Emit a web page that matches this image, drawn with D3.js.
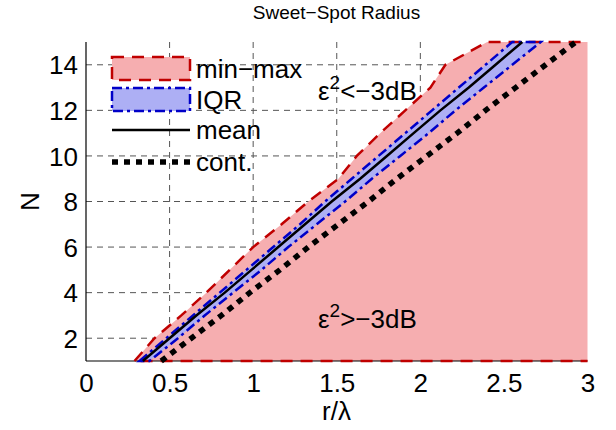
<!DOCTYPE html>
<html>
<head>
<meta charset="utf-8">
<script src="https://cdn.jsdelivr.net/npm/d3@7"></script>
<style>
  html, body { margin: 0; padding: 0; background: #fff; }
  svg { display: block; font-family: "Liberation Sans", Arial, Helvetica, sans-serif; }
</style>
</head>
<body>
<svg id="chart" width="616" height="430"></svg>
<script>
// ---- data ----
const orders   = [1, 2, 3, 4, 5, 6, 7, 8, 9, 10, 11, 12, 13, 14, 15];   // N
const radiusMin  = [0.29, 0.41, 0.57, 0.72, 0.86, 1.00, 1.17, 1.33, 1.51, 1.62, 1.76, 1.91, 2.06, 2.15, 2.40];
const radiusMax  = [3.50, 3.50, 3.50, 3.50, 3.50, 3.50, 3.50, 3.50, 3.50, 3.50, 3.50, 3.50, 3.50, 3.50, 3.50];
const radiusQ1   = [0.32, 0.48, 0.64, 0.80, 0.96, 1.12, 1.28, 1.43, 1.59, 1.75, 1.91, 2.07, 2.23, 2.39, 2.55];
const radiusQ3   = [0.38, 0.55, 0.71, 0.88, 1.05, 1.21, 1.38, 1.55, 1.71, 1.88, 2.05, 2.21, 2.38, 2.55, 2.72];
const radiusMean = [0.34, 0.50, 0.66, 0.83, 0.99, 1.15, 1.31, 1.47, 1.64, 1.80, 1.96, 2.12, 2.29, 2.45, 2.61];
const radiusCont = [0.45, 0.63, 0.81, 0.98, 1.16, 1.33, 1.51, 1.69, 1.86, 2.04, 2.22, 2.39, 2.57, 2.75, 2.93];

const xTickValues = [0, 0.5, 1, 1.5, 2, 2.5, 3];
const xTickLabels = ["0", "0.5", "1", "1.5", "2", "2.5", "3"];
const yTickValues = [2, 4, 6, 8, 10, 12, 14];
const yTickLabels = ["2", "4", "6", "8", "10", "12", "14"];
const legendLabels = ["min\u2212max", "IQR", "mean", "cont."];

// ---- layout ----
const svg = d3.select("#chart");
const x = d3.scaleLinear().domain([0, 3]).range([86, 587.5]);
const y = d3.scaleLinear().domain([1, 15]).range([361, 42]);

const C = {
  pink: "#f6aeb0", red: "#c00000",
  lav: "#adaff4", blue: "#0000c8",
  grid: "#555"
};

const defs = svg.append("defs");
defs.append("clipPath").attr("id", "clipFill").append("rect")
  .attr("x", x(0)).attr("y", y(15)).attr("width", x(3) - x(0)).attr("height", y(1) - y(15));
defs.append("clipPath").attr("id", "clipStroke").append("rect")
  .attr("x", x(0) - 5).attr("y", y(15) - 3).attr("width", x(3) - x(0) + 5).attr("height", y(1) - y(15) + 6);

// grid
const grid = svg.append("g");
grid.selectAll("line.v").data(xTickValues.filter(v => v > 0 && v < 3)).enter().append("line")
  .attr("x1", d => x(d)).attr("x2", d => x(d)).attr("y1", y(15)).attr("y2", y(1))
  .attr("stroke", C.grid).attr("stroke-width", 1).attr("stroke-dasharray", "6,5");
grid.selectAll("line.h").data(yTickValues).enter().append("line")
  .attr("x1", x(0)).attr("x2", x(3)).attr("y1", d => y(d)).attr("y2", d => y(d))
  .attr("stroke", C.grid).attr("stroke-width", 1).attr("stroke-dasharray", "6,5");

// polygons
function band(lo, hi) {
  const pts = orders.map((n, i) => [lo[i], n]);
  for (let i = orders.length - 1; i >= 0; i--) pts.push([hi[i], orders[i]]);
  return d3.line().x(d => x(d[0])).y(d => y(d[1]))(pts) + "Z";
}
const mmPath = band(radiusMin, radiusMax);
const iqrPath = band(radiusQ1, radiusQ3);

svg.append("path").attr("d", mmPath).attr("fill", C.pink).attr("clip-path", "url(#clipFill)");
svg.append("path").attr("d", iqrPath).attr("fill", C.lav);

// axes lines
const xAxis = d3.axisBottom(x).tickValues(xTickValues).tickFormat((d, i) => xTickLabels[i]).tickSize(0).tickPadding(0);
const yAxis = d3.axisLeft(y).tickValues(yTickValues).tickFormat((d, i) => yTickLabels[i]).tickSize(0).tickPadding(0);

const gx = svg.append("g").attr("transform", `translate(0,${y(1)})`).call(xAxis);
gx.select(".domain").attr("stroke", "#000").attr("stroke-width", 1.2).attr("d", `M${x(0)},0H${x(3)}`);
gx.selectAll(".tick text").attr("y", 31).attr("dy", 0).attr("font-size", 26).attr("fill", "#000")
  .attr("font-family", "Liberation Sans, Arial, sans-serif");

const gy = svg.append("g").attr("transform", `translate(${x(0)},0)`).call(yAxis);
gy.select(".domain").attr("stroke", "#000").attr("stroke-width", 1.2).attr("d", `M0,${y(15)}V${y(1)}`);
gy.selectAll(".tick text").attr("x", -8).attr("dy", "0.35em").attr("font-size", 26).attr("fill", "#000")
  .attr("font-family", "Liberation Sans, Arial, sans-serif");

// strokes of the bands
svg.append("path").attr("d", mmPath).attr("fill", "none").attr("stroke", C.red)
  .attr("stroke-width", 2.5).attr("stroke-dasharray", "12,8").attr("clip-path", "url(#clipStroke)");
svg.append("path").attr("d", iqrPath).attr("fill", "none").attr("stroke", C.blue)
  .attr("stroke-width", 2.5).attr("stroke-dasharray", "10,4,3,4");

// mean and cont. lines
const lineGen = d3.line().x(d => x(d[0])).y(d => y(d[1]));
svg.append("path").attr("d", lineGen(orders.map((n, i) => [radiusMean[i], n])))
  .attr("fill", "none").attr("stroke", "#000").attr("stroke-width", 2.5);
svg.append("path").attr("d", lineGen(orders.map((n, i) => [radiusCont[i], n])))
  .attr("fill", "none").attr("stroke", "#000").attr("stroke-width", 5.5).attr("stroke-dasharray", "6,6");

// legend
const lg = svg.append("g");
const lx0 = 112, lx1 = 190;
lg.append("rect").attr("x", lx0).attr("y", 57).attr("width", lx1 - lx0).attr("height", 23)
  .attr("fill", C.pink).attr("stroke", C.red).attr("stroke-width", 2.5).attr("stroke-dasharray", "12,8");
lg.append("rect").attr("x", lx0).attr("y", 88).attr("width", lx1 - lx0).attr("height", 23)
  .attr("fill", C.lav).attr("stroke", C.blue).attr("stroke-width", 2.5).attr("stroke-dasharray", "10,4,3,4");
lg.append("line").attr("x1", lx0).attr("x2", lx1).attr("y1", 130).attr("y2", 130)
  .attr("stroke", "#000").attr("stroke-width", 2.5);
lg.append("line").attr("x1", lx0).attr("x2", lx1).attr("y1", 162).attr("y2", 162)
  .attr("stroke", "#000").attr("stroke-width", 5.5).attr("stroke-dasharray", "6,6");
const legendY = [68.5, 99.5, 130, 162];
lg.selectAll("text").data(legendLabels).enter().append("text")
  .attr("x", 196).attr("y", (d, i) => legendY[i]).attr("dy", "0.35em")
  .attr("font-size", 26).attr("fill", "#000").text(d => d);

// annotations
function epsLabel(px, py, rest) {
  const t = svg.append("text").attr("x", px).attr("y", py).attr("font-size", 26).attr("fill", "#000");
  t.append("tspan").text("\u03b5");
  t.append("tspan").attr("dy", -11).attr("font-size", 19).text("2");
  t.append("tspan").attr("dy", 11).text(rest);
}
epsLabel(318, 100, "<\u22123dB");
epsLabel(318, 328, ">\u22123dB");

// titles
svg.append("text").attr("x", 336.5).attr("y", 19).attr("text-anchor", "middle")
  .attr("font-size", 19).attr("fill", "#000").text("Sweet\u2212Spot Radius");
svg.append("text").attr("x", 336.5).attr("y", 420).attr("text-anchor", "middle")
  .attr("font-size", 26).attr("fill", "#000").text("r/\u03bb");
svg.append("text").attr("transform", `translate(30,${y(8)}) rotate(-90)`).attr("text-anchor", "middle")
  .attr("dy", "0.35em").attr("font-size", 26).attr("fill", "#000").text("N");
</script>
</body>
</html>
